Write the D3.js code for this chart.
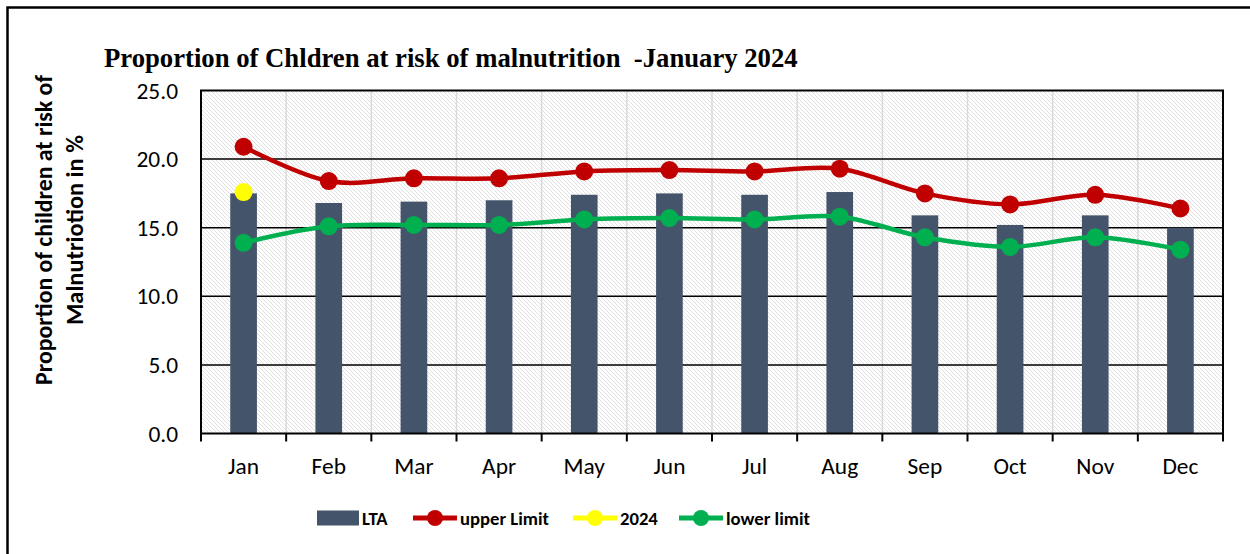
<!DOCTYPE html>
<html>
<head>
<meta charset="utf-8">
<script src="https://cdn.jsdelivr.net/npm/d3@7"></script>
<style>
  html, body { margin: 0; padding: 0; background: #fff; }
  svg { display: block; }
</style>
</head>
<body>
<svg id="chart" width="1250" height="554"></svg>
<script>
const months = ["Jan","Feb","Mar","Apr","May","Jun","Jul","Aug","Sep","Oct","Nov","Dec"];
const lta = [17.5,16.8,16.9,17.0,17.4,17.5,17.4,17.6,15.9,15.2,15.9,15.0];
const upperLimit = [20.9,18.4,18.6,18.6,19.1,19.2,19.1,19.3,17.5,16.7,17.4,16.4];
const lowerLimit = [13.9,15.1,15.2,15.2,15.6,15.7,15.6,15.8,14.3,13.6,14.3,13.4];
const y2024 = [17.6,null,null,null,null,null,null,null,null,null,null,null];
const yTicks = [0,5,10,15,20,25];
const titleText = "Proportion of Chldren at risk of malnutrition  -January 2024";
const yTitleLines = ["Proportion of children at risk of", "Malnutriotion in %"];
const legendItems = [
  {name: "LTA", type: "bar", color: "#44546A"},
  {name: "upper Limit", type: "line", color: "#C00000"},
  {name: "2024", type: "line", color: "#FFFF00"},
  {name: "lower limit", type: "line", color: "#00B050"}
];

(function () {
const svg = d3.select("#chart");
const sansFont = "Carlito, Calibri, Lato, 'Open Sans', sans-serif";

function fitWidth(sel, target) {
  const node = sel.node();
  const fs = parseFloat(sel.attr("font-size"));
  const w = node.getComputedTextLength();
  if (w > 0) sel.attr("font-size", (fs * target / w).toFixed(2));
}
// size for a group of texts, based on one reference text's width
function fitGroup(sel, refText, target, weight) {
  const probe = svg.append("text").attr("font-family", sansFont).attr("font-weight", weight || "normal")
    .attr("font-size", 20).text(refText);
  const w = probe.node().getComputedTextLength();
  probe.remove();
  sel.attr("font-size", (20 * target / w).toFixed(2));
}

// outer frame
svg.append("rect").attr("x", 7.5).attr("y", 7.5).attr("width", 1270).attr("height", 570)
  .attr("fill", "none").attr("stroke", "#000").attr("stroke-width", 2.5);

const pLeft = 201, pRight = 1223, pTop = 90.5, pBottom = 433.5;
const x = d3.scaleBand().domain(months).range([pLeft, pRight]).padding(0);
const y = d3.scaleLinear().domain([0, 25]).range([pBottom, pTop]);
const bw = x.bandwidth();
const cx = m => x(m) + bw / 2;

// hatch pattern
const defs = svg.append("defs");
const pat = defs.append("pattern").attr("id", "hatch").attr("patternUnits", "userSpaceOnUse")
  .attr("width", 4).attr("height", 4);
pat.append("rect").attr("width", 4).attr("height", 4).attr("fill", "#fff");
pat.append("path").attr("d", "M-1,-1 L5,5 M-1,3 L1,5 M3,-1 L5,1")
  .attr("stroke", "#d2d2d2").attr("stroke-width", 0.7);

svg.append("rect").attr("x", pLeft).attr("y", pTop).attr("width", pRight - pLeft).attr("height", pBottom - pTop)
  .attr("fill", "url(#hatch)");

// vertical light gridlines at band boundaries
svg.append("g").selectAll("line").data(months.slice(1)).join("line")
  .attr("x1", d => x(d)).attr("x2", d => x(d)).attr("y1", pTop).attr("y2", pBottom)
  .attr("stroke", "#d9d9d9").attr("stroke-width", 1.5);

// horizontal black gridlines
svg.append("g").selectAll("line").data(yTicks.filter(t => t > 0 && t < 25)).join("line")
  .attr("x1", pLeft).attr("x2", pRight).attr("y1", d => y(d)).attr("y2", d => y(d))
  .attr("stroke", "#000").attr("stroke-width", 1.5);

// bars
const barW = bw * 0.313;
svg.append("g").selectAll("rect").data(months).join("rect")
  .attr("x", (d) => cx(d) - barW / 2).attr("width", barW)
  .attr("y", (d, i) => y(lta[i])).attr("height", (d, i) => y(0) - y(lta[i]))
  .attr("fill", "#44546A");

// plot border
svg.append("rect").attr("x", pLeft).attr("y", pTop).attr("width", pRight - pLeft).attr("height", pBottom - pTop)
  .attr("fill", "none").attr("stroke", "#000").attr("stroke-width", 2);

// y axis
const yAxis = svg.append("g").attr("transform", `translate(${pLeft},0)`)
  .call(d3.axisLeft(y).tickValues(yTicks).tickFormat(d3.format(".1f")).tickSize(0).tickPadding(23));
yAxis.select(".domain").remove();
yAxis.selectAll("text").attr("font-family", sansFont).attr("fill", "#000")
  .call(s => fitGroup(s, "25.0", 41.5));

// x axis
const xAxis = svg.append("g").attr("transform", `translate(0,${pBottom})`)
  .call(d3.axisBottom(x).tickSize(0).tickPadding(24));
xAxis.select(".domain").remove();
xAxis.selectAll("text").attr("font-family", sansFont).attr("fill", "#000")
  .call(s => fitGroup(s, "Jan", 31));
// tick marks at boundaries
svg.append("g").selectAll("line").data(d3.range(months.length + 1)).join("line")
  .attr("x1", i => pLeft + i * bw).attr("x2", i => pLeft + i * bw)
  .attr("y1", pBottom).attr("y2", pBottom + 8)
  .attr("stroke", "#000").attr("stroke-width", 2);

// lines
const line = d3.line().defined(d => d.v != null).x(d => cx(d.m)).y(d => y(d.v))
  .curve(d3.curveCatmullRom.alpha(0));
function drawSeries(vals, color) {
  const data = months.map((m, i) => ({m, v: vals[i]}));
  svg.append("path").datum(data).attr("d", line).attr("fill", "none")
    .attr("stroke", color).attr("stroke-width", 4.5).attr("stroke-linejoin", "round");
  svg.append("g").selectAll("circle").data(data.filter(d => d.v != null)).join("circle")
    .attr("cx", d => cx(d.m)).attr("cy", d => y(d.v)).attr("r", 9).attr("fill", color);
}
drawSeries(upperLimit, "#C00000");
drawSeries(lowerLimit, "#00B050");
drawSeries(y2024, "#FFFF00");

// title
const title = svg.append("text").attr("x", 104).attr("y", 67)
  .attr("font-family", "'Liberation Serif', 'Times New Roman', serif").attr("font-weight", "bold")
  .attr("font-size", 23).attr("fill", "#000").style("white-space", "pre").text(titleText);
fitWidth(title, 694);

// y title
const yt = svg.append("g");
yt.append("text").attr("transform", "translate(52,230) rotate(-90)").attr("text-anchor", "middle")
  .attr("font-family", sansFont).attr("font-weight", "bold").attr("font-size", 19).attr("fill", "#000")
  .text(yTitleLines[0]).call(s => fitWidth(s, 310));
yt.append("text").attr("transform", "translate(83,230) rotate(-90)").attr("text-anchor", "middle")
  .attr("font-family", sansFont).attr("font-weight", "bold").attr("font-size", 19).attr("fill", "#000")
  .text(yTitleLines[1]).call(s => fitWidth(s, 190));

// legend
const legendX = [317, 413, 573, 679];
const ly = 518;
const legendTexts = [];
legendItems.forEach((it, i) => {
  const g = svg.append("g").attr("transform", `translate(${legendX[i]},${ly})`);
  if (it.type === "bar") {
    g.append("rect").attr("x", 0).attr("y", -7.5).attr("width", 42).attr("height", 15).attr("fill", it.color);
    legendTexts.push(g.append("text").attr("x", 45).attr("y", 7).text(it.name).node());
  } else {
    g.append("line").attr("x1", 0).attr("x2", 44).attr("y1", 0).attr("y2", 0)
      .attr("stroke", it.color).attr("stroke-width", 5);
    g.append("circle").attr("cx", 22).attr("cy", 0).attr("r", 8).attr("fill", it.color);
    legendTexts.push(g.append("text").attr("x", 47).attr("y", 7).text(it.name).node());
  }
});
d3.selectAll(legendTexts).attr("font-family", sansFont).attr("font-weight", "bold").attr("fill", "#000")
  .call(s => fitGroup(s, "upper Limit", 89, "bold"));
})();
</script>
</body>
</html>
